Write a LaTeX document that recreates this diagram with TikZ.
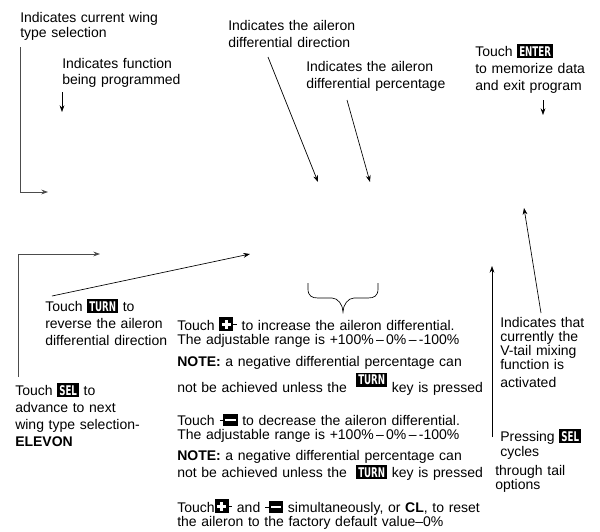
\documentclass[tikz,border=0pt]{standalone}
\usepackage{fontspec}
\setmainfont{Liberation Sans}
\newfontfamily\keyfont{DejaVu Sans}[FakeStretch=0.65]
\usetikzlibrary{arrows.meta}
\newlength\vtw
\newcommand\keycap[1]{{\setlength\fboxsep{1.5pt}\colorbox{black}{\textcolor{white}{\keyfont\bfseries\fontsize{10}{10}\selectfont #1}}}}
\newcommand\pluskey{\tikz[baseline=1pt,x=1pt,y=1pt]{\fill[black](0,0)rectangle(10.5,10.5);\fill[white](1.8,4.2)rectangle(8.7,6.3);\fill[white](4.2,1.8)rectangle(6.3,8.7);\draw[line width=.5pt](10.5,5.2)--(13,5.2);}}
\newcommand\minuskey{\tikz[baseline=1pt,x=1pt,y=1pt]{\draw[line width=.5pt](-2.5,4.7)--(0,4.7);\fill[black](0,0)rectangle(11,9.5);\fill[white](1.5,3.7)rectangle(9.5,5.8);}}
\begin{document}
\begin{tikzpicture}[x=0.75pt,y=-0.75pt,
  lbl/.style={anchor=base west,inner sep=0pt,align=left,text width=300pt,font=\fontsize{10.5}{#1}\selectfont},
  lbl/.default=12.75pt,
  arr/.style={-{Stealth[length=5pt,width=3.6pt]},line width=0.5pt,black},
  lline/.style={line width=0.6pt,black!70}]
\useasboundingbox[fill=white] (0,0) rectangle (600,532);

% labels
\node[lbl=11.25pt] (wing) at (20,22) {Indicates current wing\\type selection};
\node[lbl=12pt] (func) at (62,68) {Indicates function\\being programmed};
\node[lbl] (dir) at (228,30) {Indicates the aileron\\differential direction};
\node[lbl] (pct) at (306,71) {Indicates the aileron\\differential percentage};
\node[lbl] (enter) at (475,56) {Touch \keycap{ENTER}\\to memorize data\\and exit program};
\node[lbl] (turn) at (45,311) {Touch \keycap{TURN} to\\reverse the aileron\\differential direction};
\node[lbl] (sel) at (15,395) {Touch \keycap{SEL} to\\advance to next\\wing type selection-\\\textbf{ELEVON}};

\node[lbl=10.5pt] (inc) at (177,330) {Touch \pluskey{} to increase the aileron differential.\\The adjustable range is +100\%\,\textendash\,0\%\,\textendash\,-100\%};
\node[lbl=10.5pt] (note1) at (177,366) {\textbf{NOTE:} a negative differential percentage can\\[2pt]not be achieved unless the \ \raisebox{6pt}{\keycap{TURN}} key is pressed};
\node[lbl=10.5pt] (dec) at (177,425) {Touch \minuskey{} to decrease the aileron differential.\\The adjustable range is +100\%\,\textendash\,0\%\,\textendash\,-100\%};
\node[lbl=12.75pt] (note2) at (177,460) {\textbf{NOTE:} a negative differential percentage can\\not be achieved unless the \ \keycap{TURN} key is pressed};
\node[lbl=10.5pt] (reset) at (177,512) {Touch\pluskey{} and \minuskey{} simultaneously, or \textbf{CL}, to reset\\the aileron to the factory default value\textendash0\%};

\node[lbl=10.5pt] (vtail) at (500,327) {\settowidth{\vtw}{Indicates that}Indicates that\\\makebox[\vtw][s]{currently the}\\\makebox[\vtw][s]{V-tail mixing}\\function is};
\node[lbl] (act) at (500,387) {activated};
\node[lbl=11.25pt] (press) at (500,441) {Pressing \keycap{SEL}\\cycles};
\node[lbl=10.5pt] (thru) at (495,475) {through tail\\options};

% connector end points
\coordinate (l1a) at (20,47); \coordinate (l1b) at (20,192); \coordinate (l1c) at (48,192);
\coordinate (fa) at (62,92); \coordinate (fb) at (62,112);
\coordinate (da) at (268,57); \coordinate (db) at (318,182);
\coordinate (pa) at (347,100); \coordinate (pb) at (370,182);
\coordinate (ea) at (543,100); \coordinate (eb) at (543,115);
\coordinate (l2a) at (18,377); \coordinate (l2b) at (18,254); \coordinate (l2c) at (100,254);
\coordinate (ta) at (52,296); \coordinate (tb) at (250,254);
\coordinate (ra) at (492,437); \coordinate (rb) at (492,266);
\coordinate (va) at (541,313); \coordinate (vb) at (524,208);

\draw[lline,-{Stealth[length=5pt,width=3.6pt]}] (l1a) -- (l1b) -- (l1c);
\draw[arr] (fa) -- (fb);
\draw[arr] (da) -- (db);
\draw[arr] (pa) -- (pb);
\draw[arr] (ea) -- (eb);
\draw[lline,-{Stealth[length=5pt,width=3.6pt]}] (l2a) -- (l2b) -- (l2c);
\draw[arr] (ta) -- (tb);
\draw[arr] (ra) -- (rb);
\draw[arr] (va) -- (vb);

% brace
\draw[line width=0.5pt] (308,283) -- (308,289) .. controls (308,296) and (312,298) .. (318,298) -- (332,298) .. controls (338,298) and (343,305) .. (343,312) .. controls (343,305) and (348,298) .. (354,298) -- (368,298) .. controls (374,298) and (378,296) .. (378,289) -- (378,283);
\end{tikzpicture}
\end{document}
